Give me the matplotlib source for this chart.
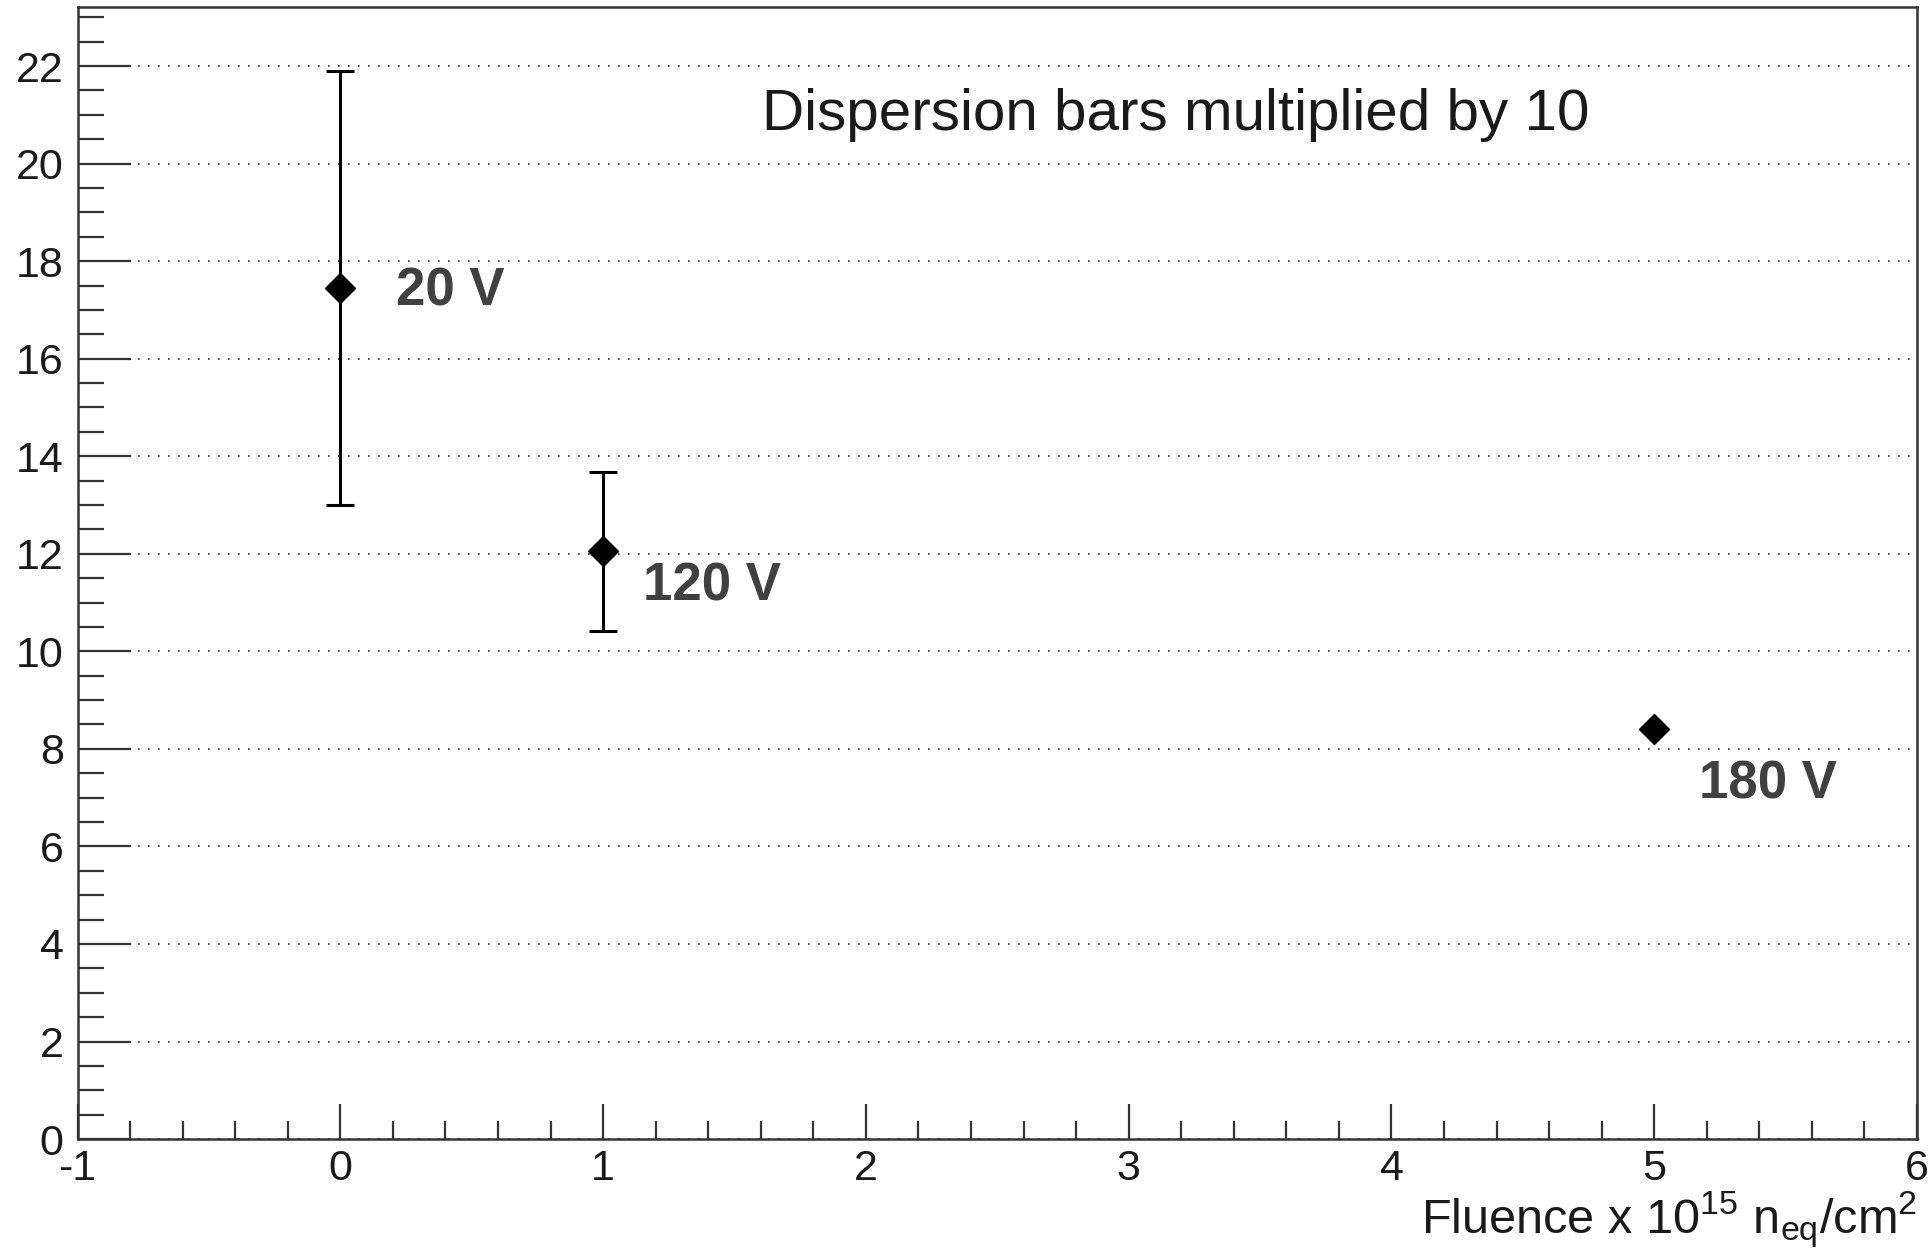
import matplotlib
matplotlib.use('Agg')
import matplotlib.pyplot as plt
from matplotlib.ticker import MultipleLocator

plt.rcParams['font.family'] = ['Liberation Sans', 'DejaVu Sans']
plt.rcParams['mathtext.default'] = 'regular'
plt.rcParams['axes.unicode_minus'] = False

# fluence (1e15 neq/cm2), value, dispersion (x10)
fluence = [0, 1, 5]
value = [17.45, 12.05, 8.4]
dispersion = [4.45, 1.63, 0.0]
bias = ['20 V', '120 V', '180 V']
label_dx = [0.21, 0.15, 0.17]
label_dy = [-0.07, -0.72, -1.13]

fig = plt.figure(figsize=(19.29, 12.48), dpi=100)
ax = fig.add_axes([0.0402, 0.0873, 0.9536, 0.9067])

ax.errorbar(fluence, value, yerr=dispersion, fmt='D', color='black',
            ms=15, elinewidth=2.2, capsize=10, capthick=2.2, zorder=3)

for x, y, t, dx, dy in zip(fluence, value, bias, label_dx, label_dy):
    ax.text(x + dx, y + dy, t, fontsize=38, fontweight='bold', color='#404040',
            ha='left', va='center')

ax.text(3.18, 21.0, 'Dispersion bars multiplied by 10', fontsize=42,
        color='#1a1a1a', ha='center', va='center')

ax.set_xlim(-1, 6)
ax.set_ylim(0, 23.2)
ax.xaxis.set_major_locator(MultipleLocator(1))
ax.xaxis.set_minor_locator(MultipleLocator(0.2))
ax.yaxis.set_major_locator(MultipleLocator(2))
ax.yaxis.set_minor_locator(MultipleLocator(0.5))

ax.yaxis.grid(True, which='major', color='#333333', linestyle=(0, (1, 5)),
              linewidth=1.2)
ax.set_axisbelow(True)

ax.tick_params(which='both', direction='in', top=False, right=False,
               width=1.6, color='#333333', labelsize=31, labelcolor='#1a1a1a')
ax.tick_params(axis='y', which='major', length=38, pad=10)
ax.tick_params(axis='y', which='minor', length=19)
ax.tick_params(axis='x', which='major', length=25, pad=7)
ax.tick_params(axis='x', which='minor', length=13)
for sp in ax.spines.values():
    sp.set_linewidth(1.8)
    sp.set_color('#333333')

ax.set_xlabel(r'Fluence x 10$^{15}$ n$_{eq}$/cm$^{2}$', fontsize=35,
              color='#1a1a1a', loc='right', labelpad=0)

fig.savefig('out.png', dpi=100)
